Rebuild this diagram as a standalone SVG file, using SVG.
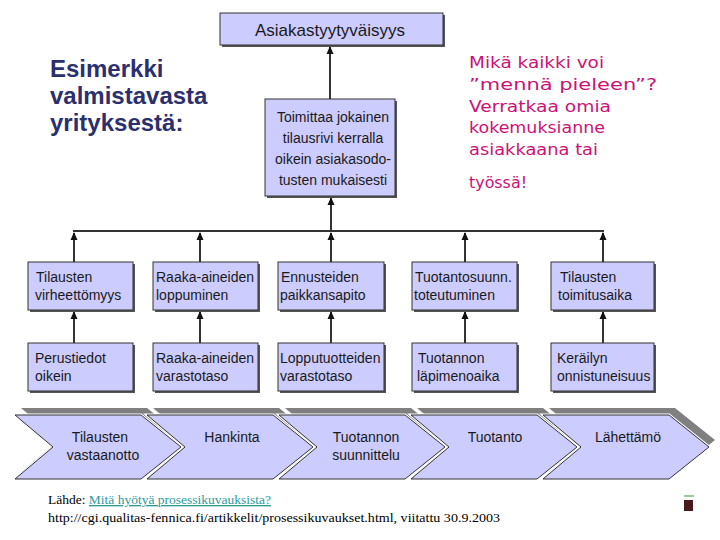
<svg xmlns="http://www.w3.org/2000/svg" width="720" height="540" viewBox="0 0 720 540">
<style>
.bx{fill:#ccccff;stroke:#333;stroke-width:1}
.sh{fill:#555}
.t{font-family:"Liberation Sans",Arial,sans-serif;font-size:14px;fill:#1a1a1a}
.tc{font-family:"Liberation Sans",Arial,sans-serif;font-size:14px;fill:#1a1a1a;text-anchor:middle}
.cn{stroke:#333;stroke-width:2;fill:none}
.chs{fill:#808080}
.chw{fill:none;stroke:#fff;stroke-width:3}
.chb{fill:#ccccff;stroke:#333;stroke-width:1}
.pk{font-family:"DejaVu Sans",sans-serif;font-size:16px;fill:#cc1177}
.hd{font-family:"Liberation Sans",Arial,sans-serif;font-size:24px;font-weight:bold;fill:#2b2f6e}
.ft{font-family:"Liberation Serif","Times New Roman",serif;font-size:12.5px;fill:#000}
</style>
<defs>
<marker id="ah" markerWidth="8" markerHeight="8" refX="7" refY="4" orient="auto" markerUnits="userSpaceOnUse">
<path d="M0,0.5 L8,4 L0,7.5 z" fill="#111"/>
</marker>
</defs>
<rect width="720" height="540" fill="#fff"/>

<g id="heading">
<text class="hd" x="50" y="77">Esimerkki</text>
<text class="hd" x="50" y="104">valmistavasta</text>
<text class="hd" x="50" y="131">yrityksestä:</text>
</g>

<g id="question">
<text class="pk" x="469" y="68" textLength="135" lengthAdjust="spacingAndGlyphs">Mikä kaikki voi</text>
<text class="pk" x="469" y="90" textLength="188" lengthAdjust="spacingAndGlyphs">”mennä pieleen”?</text>
<text class="pk" x="469" y="112" textLength="142" lengthAdjust="spacingAndGlyphs">Verratkaa omia</text>
<text class="pk" x="469" y="133" textLength="136" lengthAdjust="spacingAndGlyphs">kokemuksianne</text>
<text class="pk" x="469" y="155" textLength="129" lengthAdjust="spacingAndGlyphs">asiakkaana tai</text>
<text class="pk" x="469" y="188" textLength="58" lengthAdjust="spacingAndGlyphs">työssä!</text>
</g>

<g id="connectors">
<line class="cn" x1="330" y1="100" x2="330" y2="47" marker-end="url(#ah)"/>
<line class="cn" x1="331" y1="231" x2="331" y2="198" marker-end="url(#ah)"/>
<line class="cn" x1="73" y1="231" x2="604" y2="231"/>
<line class="cn" x1="74" y1="262" x2="74" y2="233" marker-end="url(#ah)"/>
<line class="cn" x1="200" y1="262" x2="200" y2="233" marker-end="url(#ah)"/>
<line class="cn" x1="331" y1="262" x2="331" y2="233" marker-end="url(#ah)"/>
<line class="cn" x1="465" y1="262" x2="465" y2="233" marker-end="url(#ah)"/>
<line class="cn" x1="603" y1="262" x2="603" y2="233" marker-end="url(#ah)"/>
<line class="cn" x1="74" y1="343" x2="74" y2="312" marker-end="url(#ah)"/>
<line class="cn" x1="200" y1="343" x2="200" y2="312" marker-end="url(#ah)"/>
<line class="cn" x1="331" y1="343" x2="331" y2="312" marker-end="url(#ah)"/>
<line class="cn" x1="465" y1="343" x2="465" y2="312" marker-end="url(#ah)"/>
<line class="cn" x1="603" y1="343" x2="603" y2="312" marker-end="url(#ah)"/>
</g>

<g id="n-top">
<rect class="sh" x="222" y="15" width="223" height="32"/>
<rect class="bx" x="220" y="13" width="223" height="32"/>
<text class="tc" x="330" y="36" style="font-size:17px">Asiakastyytyväisyys</text>
</g>

<g id="n-main">
<rect class="sh" x="267" y="101" width="130" height="97"/>
<rect class="bx" x="265" y="99" width="130" height="97"/>
<text class="tc" x="333" y="122">Toimittaa jokainen</text>
<text class="tc" x="333" y="143">tilausrivi kerralla</text>
<text class="tc" x="333" y="164">oikein asiakasodo-</text>
<text class="tc" x="333" y="185">tusten mukaisesti</text>
</g>

<g id="r1a"><rect class="sh" x="30" y="264" width="105" height="48"/><rect class="bx" x="28" y="262" width="105" height="48"/>
<text class="t" x="36" y="282">Tilausten</text><text class="t" x="35" y="300">virheettömyys</text></g>
<g id="r1b"><rect class="sh" x="155" y="264" width="105" height="48"/><rect class="bx" x="153" y="262" width="105" height="48"/>
<text class="t" x="156" y="282">Raaka-aineiden</text><text class="t" x="156" y="300">loppuminen</text></g>
<g id="r1c"><rect class="sh" x="280" y="264" width="106" height="48"/><rect class="bx" x="278" y="262" width="106" height="48"/>
<text class="t" x="281" y="282">Ennusteiden</text><text class="t" x="280" y="300">paikkansapito</text></g>
<g id="r1d"><rect class="sh" x="414" y="264" width="105" height="48"/><rect class="bx" x="412" y="262" width="105" height="48"/>
<text class="t" x="415" y="282">Tuotantosuunn.</text><text class="t" x="414" y="300">toteutuminen</text></g>
<g id="r1e"><rect class="sh" x="553" y="264" width="103" height="48"/><rect class="bx" x="551" y="262" width="103" height="48"/>
<text class="t" x="560" y="282">Tilausten</text><text class="t" x="558" y="300">toimitusaika</text></g>

<g id="r2a"><rect class="sh" x="30" y="345" width="105" height="48"/><rect class="bx" x="28" y="343" width="105" height="48"/>
<text class="t" x="35" y="363">Perustiedot</text><text class="t" x="35" y="381">oikein</text></g>
<g id="r2b"><rect class="sh" x="155" y="345" width="105" height="48"/><rect class="bx" x="153" y="343" width="105" height="48"/>
<text class="t" x="156" y="363">Raaka-aineiden</text><text class="t" x="156" y="381">varastotaso</text></g>
<g id="r2c"><rect class="sh" x="280" y="345" width="106" height="48"/><rect class="bx" x="278" y="343" width="106" height="48"/>
<text class="t" x="280" y="363">Lopputuotteiden</text><text class="t" x="280" y="381">varastotaso</text></g>
<g id="r2d"><rect class="sh" x="414" y="345" width="105" height="48"/><rect class="bx" x="412" y="343" width="105" height="48"/>
<text class="t" x="418" y="363">Tuotannon</text><text class="t" x="417" y="381">läpimenoaika</text></g>
<g id="r2e"><rect class="sh" x="553" y="345" width="103" height="48"/><rect class="bx" x="551" y="343" width="103" height="48"/>
<text class="t" x="557" y="363">Keräilyn</text><text class="t" x="557" y="381">onnistuneisuus</text></g>

<g id="process">
<polygon class="chs" points="21,408 147,408 187,440 147,472 21,472 59,440"/>
<polygon class="chs" points="153,408 279,408 319,440 279,472 153,472 191,440"/>
<polygon class="chs" points="285,408 411,408 451,440 411,472 285,472 323,440"/>
<polygon class="chs" points="417,408 543,408 583,440 543,472 417,472 455,440"/>
<polygon class="chs" points="549,408 675,408 715,440 675,472 549,472 587,440"/>
<g id="p1"><polygon class="chw" points="15,415 141,415 181,447 141,479 15,479 53,447"/><polygon class="chb" points="15,415 141,415 181,447 141,479 15,479 53,447"/>
<text class="tc" x="100" y="442">Tilausten</text><text class="tc" x="103" y="460">vastaanotto</text></g>
<g id="p2"><polygon class="chw" points="147,415 273,415 313,447 273,479 147,479 185,447"/><polygon class="chb" points="147,415 273,415 313,447 273,479 147,479 185,447"/>
<text class="tc" x="232" y="442">Hankinta</text></g>
<g id="p3"><polygon class="chw" points="279,415 405,415 445,447 405,479 279,479 317,447"/><polygon class="chb" points="279,415 405,415 445,447 405,479 279,479 317,447"/>
<text class="tc" x="366" y="442">Tuotannon</text><text class="tc" x="366" y="460">suunnittelu</text></g>
<g id="p4"><polygon class="chw" points="411,415 537,415 577,447 537,479 411,479 449,447"/><polygon class="chb" points="411,415 537,415 577,447 537,479 411,479 449,447"/>
<text class="tc" x="495" y="442">Tuotanto</text></g>
<g id="p5"><polygon class="chw" points="543,415 669,415 709,447 669,479 543,479 581,447"/><polygon class="chb" points="543,415 669,415 709,447 669,479 543,479 581,447"/>
<text class="tc" x="628" y="442">Lähettämö</text></g>
</g>

<g id="source">
<text class="ft" x="48" y="504" style="font-size:13.5px">Lähde: <tspan fill="#2e9a9a" text-decoration="underline">Mitä hyötyä prosessikuvauksista?</tspan></text>
<text class="ft" x="48" y="522" textLength="452" lengthAdjust="spacingAndGlyphs">http://cgi.qualitas-fennica.fi/artikkelit/prosessikuvaukset.html, viitattu 30.9.2003</text>
</g>

<g id="corner">
<rect x="684" y="495" width="10" height="2" fill="#9c9"/>
<rect x="684" y="500" width="9" height="11" fill="#4a1a1a"/>
</g>
</svg>
